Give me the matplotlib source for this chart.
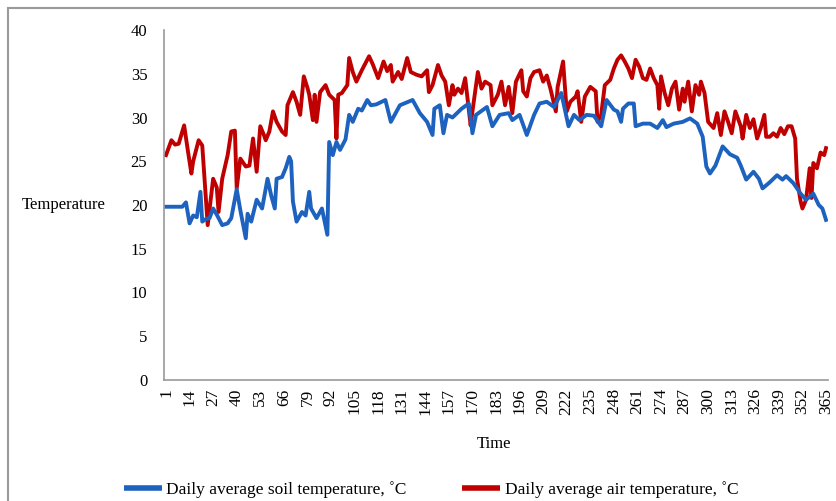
import matplotlib
matplotlib.use("Agg")
import matplotlib.pyplot as plt
from matplotlib.patches import Rectangle

# ---- data ----
soil_days = [1, 10, 12, 14, 16, 18, 20, 21, 23, 25, 27, 29, 32, 35, 37, 40, 42, 45, 46, 48,
             51, 54, 57, 59, 61, 62, 65, 67, 69, 70, 71, 73, 76, 78, 80, 81, 84, 87, 90, 91,
             93, 95, 97, 100, 102, 104, 107, 109, 112, 114, 117, 120, 122, 125, 130, 137, 141, 145, 148, 149,
             152, 154, 156, 159, 164, 168, 170, 172, 178, 181, 185, 190, 192, 196, 200, 204, 207, 211, 215, 219,
             223, 226, 229, 233, 237, 241, 244, 248, 250, 252, 253, 256, 259, 260, 264, 268, 272, 275, 277, 281,
             286, 290, 294, 297, 299, 301, 304, 308, 312, 316, 318, 321, 325, 328, 330, 334, 338, 341, 343, 347,
             351, 354, 358, 361, 363, 365]
soil_temp = [19.8, 19.8, 20.3, 17.9, 18.8, 18.6, 21.5, 18.1, 18.4, 18.5, 19.6, 18.9, 17.7, 17.9, 18.5, 21.8, 19.4, 16.2, 19.0, 18.1,
             20.6, 19.6, 23.0, 21.1, 19.6, 23.0, 23.2, 24.2, 25.5, 25.0, 20.4, 18.1, 19.2, 18.8, 21.5, 19.6, 18.5, 19.6, 16.6, 27.2,
             25.7, 27.2, 26.3, 27.5, 30.3, 29.5, 31.0, 30.8, 32.0, 31.4, 31.5, 31.8, 32.0, 29.5, 31.4, 32.0, 30.5, 29.5, 28.0, 31.0,
             31.4, 28.2, 30.3, 30.0, 31.0, 31.6, 28.2, 30.3, 31.2, 29.0, 30.3, 30.5, 29.7, 30.3, 28.0, 30.3, 31.6, 31.8, 31.2, 32.8,
             29.0, 30.3, 29.7, 30.3, 30.2, 29.0, 32.0, 30.9, 30.7, 29.5, 31.0, 31.6, 31.6, 29.0, 29.3, 29.3, 28.8, 29.7, 28.9, 29.3,
             29.5, 29.9, 29.3, 27.8, 24.4, 23.6, 24.5, 26.7, 25.8, 25.4, 24.5, 22.9, 23.8, 23.0, 21.9, 22.6, 23.4, 22.9, 23.3, 22.5,
             21.3, 20.6, 21.3, 20.0, 19.6, 18.3]

air_days = [1, 4, 6, 8, 11, 13, 15, 16, 19, 21, 22, 24, 27, 29, 30, 32, 35, 37, 39, 40,
            42, 45, 47, 49, 51, 53, 55, 56, 58, 60, 62, 65, 67, 68, 71, 73, 75, 77, 79, 80,
            82, 83, 84, 86, 89, 91, 94, 95, 96, 98, 101, 102, 104, 106, 109, 113, 115, 118, 121, 123,
            125, 126, 129, 131, 134, 136, 139, 142, 145, 146, 148, 151, 153, 155, 157, 159, 160, 162, 164, 166,
            169, 170, 173, 175, 177, 180, 181, 184, 186, 188, 190, 192, 194, 197, 198, 200, 202, 204, 207, 209,
            211, 213, 216, 217, 220, 222, 224, 227, 228, 230, 232, 235, 238, 239, 241, 243, 246, 248, 250, 252,
            254, 256, 258, 260, 262, 264, 266, 268, 270, 272, 273, 274, 276, 278, 280, 282, 284, 286, 287, 289,
            291, 293, 295, 296, 298, 300, 303, 305, 307, 309, 311, 313, 315, 318, 319, 321, 323, 325, 327, 329,
            331, 332, 334, 336, 338, 340, 342, 344, 346, 348, 349, 351, 352, 354, 356, 357, 358, 360, 362, 364,
            365]
air_temp = [25.7, 27.4, 26.9, 27.0, 29.1, 26.3, 23.6, 25.0, 27.4, 26.8, 23.8, 17.7, 23.0, 22.0, 19.2, 23.0, 25.7, 28.4, 28.5, 21.9,
            25.3, 24.4, 24.5, 27.6, 23.8, 29.0, 28.0, 27.4, 28.4, 30.7, 29.5, 28.4, 28.0, 31.4, 32.9, 31.8, 30.3, 34.7, 33.4, 32.6,
            29.7, 32.6, 29.5, 32.9, 33.7, 32.6, 32.0, 27.6, 32.6, 32.8, 33.7, 36.8, 35.2, 34.1, 35.4, 37.0, 36.1, 34.5, 36.4, 35.3,
            36.0, 34.1, 35.2, 34.4, 36.8, 35.2, 34.9, 34.7, 35.4, 32.9, 33.7, 36.0, 34.8, 34.1, 31.4, 33.7, 32.6, 33.3, 32.8, 34.5,
            29.1, 30.7, 35.2, 33.3, 34.1, 33.7, 31.4, 32.6, 34.1, 31.4, 33.5, 30.5, 34.1, 35.4, 33.0, 32.4, 34.5, 35.2, 35.4, 34.1,
            34.8, 33.3, 30.7, 33.5, 36.4, 30.7, 31.8, 32.4, 33.0, 29.5, 32.4, 33.5, 33.0, 29.5, 30.3, 33.7, 34.3, 35.6, 36.6, 37.1,
            36.4, 35.6, 34.5, 36.6, 35.8, 34.5, 34.3, 35.6, 34.5, 33.7, 31.0, 34.7, 32.8, 31.4, 33.3, 34.1, 30.9, 33.3, 31.8, 34.1,
            30.7, 33.7, 32.6, 34.1, 32.8, 29.5, 28.8, 30.5, 28.0, 30.7, 29.5, 28.2, 30.7, 29.0, 27.6, 30.3, 28.8, 29.8, 27.6, 28.8,
            30.3, 27.8, 27.8, 28.2, 27.8, 28.8, 28.1, 29.0, 29.0, 27.6, 23.0, 20.4, 19.6, 20.6, 24.2, 20.8, 24.8, 24.2, 26.0, 25.7,
            26.5]

x_ticks = list(range(1, 366, 13))
y_ticks = [0, 5, 10, 15, 20, 25, 30, 35, 40]

soil_label = "Daily average soil temperature, \u02daC"
air_label = "Daily average air temperature, \u02daC"

plt.rcParams['font.family'] = ['Liberation Serif', 'DejaVu Serif']

fig = plt.figure(figsize=(8.36, 5.01), dpi=100)
ax = fig.add_axes([164/836, 1 - 380/501, (828-164)/836, (380-30)/501])

blue = '#1C62BE'
red = '#C00000'
h_air, = ax.plot(air_days, air_temp, color=red, lw=2.8, solid_joinstyle='round')
h_soil, = ax.plot(soil_days, soil_temp, color=blue, lw=2.8, solid_joinstyle='round')

ax.set_xlim(-0.1, 366.1)
ax.set_ylim(0, 40)
ax.set_xticks(x_ticks)
ax.set_xticklabels([str(t) for t in x_ticks], rotation=90, fontsize=12.5)
ax.set_yticks(y_ticks)
ax.set_yticklabels([str(t) for t in y_ticks], fontsize=12)
ax.tick_params(axis='both', length=0)
ax.tick_params(axis='y', pad=12)
ax.tick_params(axis='x', pad=6)
for s in ['top', 'right']:
    ax.spines[s].set_visible(False)
for s in ['left', 'bottom']:
    ax.spines[s].set_color('#9A9A9A')
    ax.spines[s].set_linewidth(1.2)

fig.text(22/836, 1 - 205/501, "Temperature", ha='left', va='center', fontsize=12)
fig.text(494/836, 1 - 444/501, "Time", ha='center', va='center', fontsize=12)

leg = fig.legend([h_soil, h_air], [soil_label, air_label], loc='center',
                 bbox_to_anchor=(431/836, 1 - 490/501), ncol=2, frameon=False,
                 fontsize=12.5, handlelength=2.2, handletextpad=0.25, columnspacing=3.2)
for line in leg.get_lines():
    line.set_linewidth(4)
    line.set_solid_capstyle('butt')

# outer frame (partially outside the picture)
fig.patches.append(Rectangle((8/836, -0.2), 2.0, 1.2 - 8/501, transform=fig.transFigure,
                             fill=False, edgecolor='#9A9A9A', linewidth=1.5))

fig.savefig("out.png", dpi=100)
